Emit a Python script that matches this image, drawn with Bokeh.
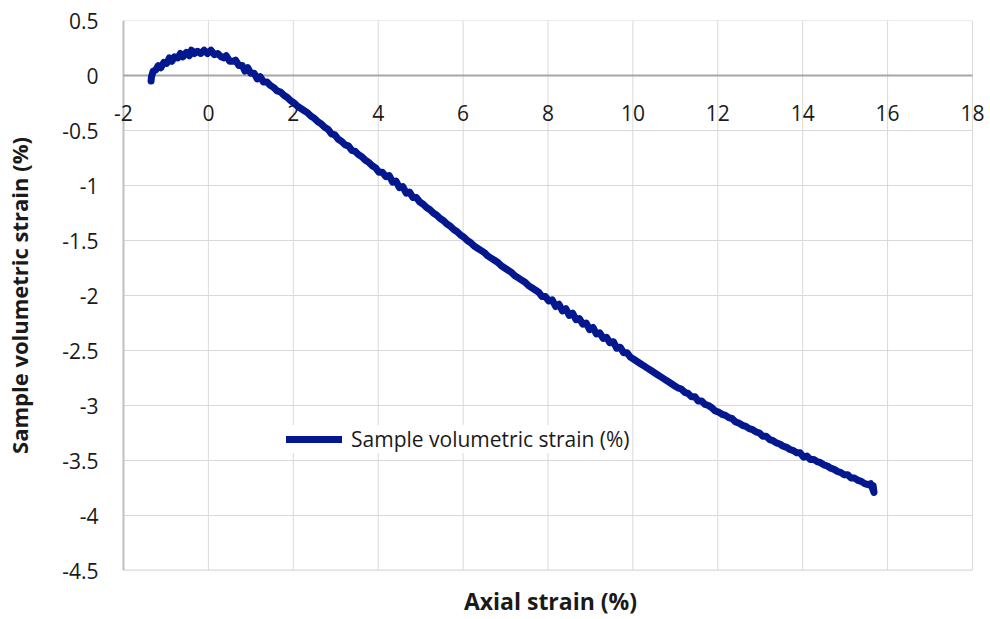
from bokeh.plotting import figure
from bokeh.models import Range1d, FixedTicker, Legend, LegendItem
from bokeh.core.properties import value
from bokeh.embed import file_html
from bokeh.resources import INLINE

# ---- data ----
axial_strain = [
    -1.35, -1.34, -1.30, -1.24, -1.18, -1.12, -1.05, -0.98, -0.92, -0.86,
    -0.80, -0.72, -0.66, -0.60, -0.52, -0.45, -0.40, -0.33, -0.26, -0.18,
    -0.10, -0.02, 0.06, 0.14, 0.22, 0.30, 0.36, 0.42, 0.50, 0.58,
    0.64, 0.72, 0.80, 0.86, 0.93, 1.00, 1.08, 1.15, 1.22, 1.30,
    1.38, 1.46, 1.54, 1.62, 1.70, 1.78, 1.86, 1.94, 2.02,
    2.10, 2.18, 2.26, 2.34, 2.42, 2.50, 2.58, 2.66, 2.74, 2.82, 2.90, 2.98,
    3.06, 3.14, 3.22, 3.30, 3.38, 3.46, 3.54, 3.62, 3.70, 3.78, 3.86, 3.94, 4.02,
    4.10, 4.18, 4.26, 4.34, 4.42, 4.50, 4.58, 4.66, 4.74, 4.82, 4.90, 4.98,
    5.06, 5.14, 5.22, 5.30, 5.38, 5.46, 5.54, 5.62, 5.70, 5.78, 5.86, 5.94, 6.02, 6.10,
    6.18, 6.26, 6.34, 6.42, 6.50, 6.58, 6.66, 6.74, 6.82, 6.90, 6.98, 7.06,
    7.14, 7.22, 7.30, 7.38, 7.46, 7.54, 7.62, 7.70, 7.78, 7.86,
    7.94, 8.02, 8.10, 8.18, 8.26, 8.34, 8.42, 8.50, 8.58, 8.66, 8.74, 8.82,
    8.90, 8.98, 9.06, 9.14, 9.22, 9.30, 9.38, 9.46, 9.54, 9.62, 9.70, 9.78,
    9.86, 9.94, 10.02, 10.10, 10.18, 10.26, 10.34, 10.42, 10.50, 10.58, 10.66,
    10.74, 10.82, 10.90, 10.98, 11.06, 11.14, 11.22, 11.30, 11.38, 11.46,
    11.54, 11.62, 11.70, 11.78,
    11.86, 11.94, 12.02, 12.10, 12.18, 12.26, 12.34, 12.42, 12.50, 12.58,
    12.66, 12.74, 12.82, 12.90, 12.98, 13.06, 13.14, 13.22, 13.30, 13.38,
    13.46, 13.54, 13.62, 13.70, 13.78, 13.86, 13.94,
    14.02, 14.10, 14.18, 14.26, 14.34, 14.42, 14.50, 14.58, 14.66, 14.74,
    14.82, 14.90, 14.98, 15.06, 15.14, 15.22, 15.30, 15.38, 15.46, 15.54,
    15.60, 15.65, 15.68, 15.66,
]
volumetric_strain = [
    -0.05, -0.01, 0.04, 0.05, 0.09, 0.07, 0.12, 0.11, 0.16, 0.13,
    0.17, 0.16, 0.20, 0.17, 0.21, 0.18, 0.23, 0.20, 0.22, 0.20,
    0.23, 0.20, 0.23, 0.19, 0.20, 0.17, 0.16, 0.18, 0.13, 0.13,
    0.14, 0.09, 0.09, 0.04, 0.07, 0.02, 0.02, -0.03, -0.01, -0.06,
    -0.06, -0.09, -0.11, -0.14, -0.15, -0.18, -0.20, -0.23, -0.25,
    -0.28, -0.30, -0.32, -0.34, -0.37, -0.39, -0.42, -0.44, -0.47, -0.49, -0.53, -0.54,
    -0.58, -0.60, -0.63, -0.64, -0.68, -0.69, -0.72, -0.74, -0.77, -0.79, -0.82, -0.84, -0.88,
    -0.88, -0.92, -0.91, -0.97, -0.96, -1.02, -1.01, -1.07, -1.06, -1.11, -1.11, -1.15,
    -1.17, -1.20, -1.22, -1.25, -1.27, -1.30, -1.32, -1.35, -1.37, -1.40, -1.42, -1.45, -1.47, -1.50,
    -1.52, -1.55, -1.57, -1.59, -1.61, -1.64, -1.66, -1.68, -1.70, -1.73, -1.75, -1.77,
    -1.79, -1.82, -1.84, -1.86, -1.88, -1.91, -1.93, -1.95, -1.97, -2.01,
    -2.01, -2.05, -2.04, -2.10, -2.08, -2.14, -2.12, -2.18, -2.16, -2.22, -2.21, -2.26,
    -2.25, -2.31, -2.29, -2.35, -2.34, -2.39, -2.38, -2.43, -2.42, -2.48, -2.47, -2.52,
    -2.52, -2.56, -2.58, -2.60, -2.62, -2.64, -2.66, -2.68, -2.70, -2.72, -2.74,
    -2.76, -2.78, -2.80, -2.82, -2.84, -2.85, -2.88, -2.89, -2.92, -2.92,
    -2.96, -2.96, -2.99, -3.00,
    -3.02, -3.05, -3.06, -3.08, -3.09, -3.11, -3.12, -3.15, -3.16, -3.18,
    -3.19, -3.21, -3.22, -3.24, -3.25, -3.28, -3.28, -3.31, -3.32, -3.34,
    -3.35, -3.37, -3.38, -3.40, -3.41, -3.43, -3.43,
    -3.47, -3.46, -3.49, -3.49, -3.51, -3.52, -3.54, -3.55, -3.57, -3.58,
    -3.60, -3.61, -3.63, -3.63, -3.66, -3.66, -3.68, -3.69, -3.71, -3.72,
    -3.71, -3.76, -3.79, -3.73,
]
series_name = "Sample volumetric strain (%)"

x_ticks = [-2, 0, 2, 4, 6, 8, 10, 12, 14, 16, 18]
x_tick_labels = ["-2", "0", "2", "4", "6", "8", "10", "12", "14", "16", "18"]
y_ticks = [0.5, 0, -0.5, -1, -1.5, -2, -2.5, -3, -3.5, -4, -4.5]
y_tick_labels = ["0.5", "0", "-0.5", "-1", "-1.5", "-2", "-2.5", "-3", "-3.5", "-4", "-4.5"]

x_title = "Axial strain (%)"
y_title = "Sample volumetric strain (%)"

FONT = "Open Sans"
TEXT_COLOR = "#1a1a1a"
LINE_COLOR = "#03178f"
GRID_COLOR = "#d9d9d9"

x_lo, x_hi = min(x_ticks), max(x_ticks)
y_lo, y_hi = min(y_ticks), max(y_ticks)

# the frame is a little wider than the data range so the end tick labels are not clipped
p = figure(width=990, height=619, output_backend="svg", toolbar_location=None,
           x_range=Range1d(x_lo - 0.306, x_hi + 0.424), y_range=Range1d(y_lo, y_hi),
           min_border_left=110, min_border_right=0, min_border_top=20,
           min_border_bottom=46)
p.outline_line_color = None
p.background_fill_color = "white"
p.border_fill_color = "white"
p.xgrid.visible = False
p.ygrid.visible = False

# grid lines, bounded to the data range
p.segment(x0=x_ticks, y0=[y_lo] * len(x_ticks), x1=x_ticks, y1=[y_hi] * len(x_ticks),
          line_color=GRID_COLOR, line_width=1)
p.segment(x0=[x_lo] * len(y_ticks), y0=y_ticks, x1=[x_hi] * len(y_ticks), y1=y_ticks,
          line_color=GRID_COLOR, line_width=1)
# bottom border and left axis line
p.segment(x0=[x_lo], y0=[y_lo], x1=[x_hi], y1=[y_lo], line_color=GRID_COLOR, line_width=2)
p.segment(x0=[x_lo], y0=[y_lo], x1=[x_lo], y1=[y_hi], line_color="#bfbfbf", line_width=2)
# horizontal axis at y = 0
p.segment(x0=[x_lo], y0=[0], x1=[x_hi], y1=[0], line_color="#a6a6a6", line_width=2)

# x tick labels under the y = 0 axis
p.text(x=x_ticks, y=[0] * len(x_ticks), text=x_tick_labels,
       text_align="center", text_baseline="middle", y_offset=37,
       text_font=value(FONT), text_font_size="21px", text_color=TEXT_COLOR)

# y axis (left)
ya = p.yaxis[0]
ya.ticker = FixedTicker(ticks=y_ticks)
ya.major_label_overrides = {t: l for t, l in zip(y_ticks, y_tick_labels)}
ya.major_tick_line_color = None
ya.minor_tick_line_color = None
ya.major_tick_out = 0
ya.major_tick_in = 0
ya.axis_line_color = None
ya.major_label_standoff = 12
ya.major_label_text_font = FONT
ya.major_label_text_font_size = "21px"
ya.major_label_text_color = TEXT_COLOR
ya.axis_label = y_title
ya.axis_label_text_font = FONT
ya.axis_label_text_font_style = "bold"
ya.axis_label_text_font_size = "22px"
ya.axis_label_text_color = TEXT_COLOR
ya.axis_label_standoff = 25

# x axis (below): title only
xa = p.xaxis[0]
xa.ticker = FixedTicker(ticks=[])
xa.major_tick_line_color = None
xa.minor_tick_line_color = None
xa.major_tick_out = 0
xa.major_tick_in = 0
xa.major_label_standoff = 0
xa.axis_line_color = None
xa.axis_label = x_title
xa.axis_label_text_font = FONT
xa.axis_label_text_font_style = "bold"
xa.axis_label_text_font_size = "23px"
xa.axis_label_text_color = TEXT_COLOR
xa.axis_label_standoff = 14

# data line
r = p.line(axial_strain, volumetric_strain, line_color=LINE_COLOR, line_width=7,
           line_join="round", line_cap="round")

legend = Legend(items=[LegendItem(label=series_name, renderers=[r])],
                location=(176, 117), border_line_color=None,
                background_fill_color="white", background_fill_alpha=1.0,
                glyph_width=56, glyph_height=20, label_standoff=9, padding=4,
                margin=0, label_text_font=FONT, label_text_font_size="21px",
                label_text_color=TEXT_COLOR)
p.add_layout(legend)

open("out.html", "w").write(file_html(p, INLINE))
